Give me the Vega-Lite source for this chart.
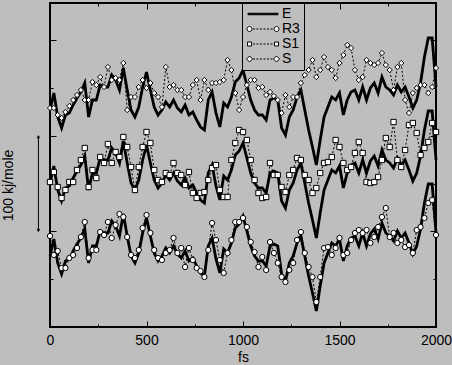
{
"$schema": "https://vega.github.io/schema/vega-lite/v6.json",
"width": 386, "height": 324,
"autosize": {"type": "none"},
"padding": {"left": 50, "top": 3, "right": 16, "bottom": 38},
"background": "#bebebe",
"config": {
  "view": {"stroke": "black", "strokeWidth": 2},
  "font": "Liberation Sans",
  "axis": {"domain": false, "grid": false, "tickColor": "black", "tickWidth": 1, "labelColor": "black", "labelFontSize": 14, "titleFontSize": 14, "titleFontWeight": "normal", "titleColor": "black", "labelFont": "Liberation Sans", "titleFont": "Liberation Sans"}
},
"datasets": {"d": [
{"t":0,"Ea":217,"Eb":144,"Ec":71,"R3":91,"S1":145,"S":219},
{"t":20,"Ea":234,"Eb":161,"Ec":88,"R3":72,"S1":155,"S":219},
{"t":40,"Ea":210,"Eb":137,"Ec":64,"R3":76,"S1":140,"S":212},
{"t":60,"Ea":199,"Eb":126,"Ec":53,"R3":59,"S1":129,"S":209},
{"t":80,"Ea":212,"Eb":139,"Ec":66,"R3":59,"S1":137,"S":215},
{"t":100,"Ea":214,"Eb":141,"Ec":68,"R3":69,"S1":145,"S":221},
{"t":120,"Ea":222,"Eb":149,"Ec":76,"R3":72,"S1":145,"S":227},
{"t":140,"Ea":229,"Eb":156,"Ec":83,"R3":79,"S1":157,"S":232},
{"t":160,"Ea":235,"Eb":162,"Ec":89,"R3":90,"S1":167,"S":237},
{"t":180,"Ea":244,"Eb":171,"Ec":98,"R3":105,"S1":179,"S":227},
{"t":200,"Ea":210,"Eb":137,"Ec":64,"R3":69,"S1":140,"S":227},
{"t":220,"Ea":227,"Eb":154,"Ec":81,"R3":77,"S1":157,"S":245},
{"t":240,"Ea":227,"Eb":154,"Ec":81,"R3":77,"S1":149,"S":242},
{"t":260,"Ea":242,"Eb":169,"Ec":96,"R3":95,"S1":170,"S":250},
{"t":280,"Ea":240,"Eb":167,"Ec":94,"R3":92,"S1":164,"S":240},
{"t":300,"Ea":240,"Eb":167,"Ec":94,"R3":105,"S1":183,"S":260},
{"t":320,"Ea":252,"Eb":179,"Ec":106,"R3":89,"S1":164,"S":247},
{"t":340,"Ea":247,"Eb":174,"Ec":101,"R3":102,"S1":175,"S":249},
{"t":360,"Ea":237,"Eb":164,"Ec":91,"R3":113,"S1":170,"S":247},
{"t":380,"Ea":259,"Eb":186,"Ec":113,"R3":110,"S1":190,"S":264},
{"t":400,"Ea":237,"Eb":164,"Ec":91,"R3":90,"S1":180,"S":217},
{"t":420,"Ea":217,"Eb":144,"Ec":71,"R3":72,"S1":160,"S":230},
{"t":440,"Ea":210,"Eb":137,"Ec":64,"R3":69,"S1":137,"S":230},
{"t":460,"Ea":220,"Eb":147,"Ec":74,"R3":77,"S1":160,"S":240},
{"t":480,"Ea":240,"Eb":167,"Ec":94,"R3":99,"S1":180,"S":247},
{"t":500,"Ea":255,"Eb":182,"Ec":109,"R3":112,"S1":195,"S":239},
{"t":520,"Ea":237,"Eb":164,"Ec":91,"R3":94,"S1":184,"S":244},
{"t":540,"Ea":220,"Eb":147,"Ec":74,"R3":77,"S1":157,"S":234},
{"t":560,"Ea":212,"Eb":139,"Ec":66,"R3":69,"S1":147,"S":230},
{"t":580,"Ea":217,"Eb":144,"Ec":71,"R3":67,"S1":145,"S":220},
{"t":600,"Ea":225,"Eb":152,"Ec":79,"R3":74,"S1":154,"S":260},
{"t":620,"Ea":220,"Eb":147,"Ec":74,"R3":77,"S1":152,"S":240},
{"t":640,"Ea":227,"Eb":154,"Ec":81,"R3":89,"S1":164,"S":242},
{"t":660,"Ea":219,"Eb":146,"Ec":73,"R3":74,"S1":154,"S":237},
{"t":680,"Ea":215,"Eb":142,"Ec":69,"R3":79,"S1":152,"S":237},
{"t":700,"Ea":222,"Eb":149,"Ec":76,"R3":60,"S1":142,"S":230},
{"t":720,"Ea":212,"Eb":139,"Ec":66,"R3":79,"S1":155,"S":230},
{"t":740,"Ea":215,"Eb":142,"Ec":69,"R3":67,"S1":134,"S":242},
{"t":760,"Ea":207,"Eb":134,"Ec":61,"R3":59,"S1":129,"S":247},
{"t":780,"Ea":200,"Eb":127,"Ec":54,"R3":56,"S1":134,"S":227},
{"t":800,"Ea":197,"Eb":124,"Ec":51,"R3":50,"S1":135,"S":247},
{"t":820,"Ea":227,"Eb":154,"Ec":81,"R3":77,"S1":147,"S":237},
{"t":840,"Ea":235,"Eb":162,"Ec":89,"R3":104,"S1":159,"S":244},
{"t":860,"Ea":214,"Eb":141,"Ec":68,"R3":87,"S1":162,"S":244},
{"t":880,"Ea":200,"Eb":127,"Ec":54,"R3":67,"S1":137,"S":245},
{"t":900,"Ea":224,"Eb":151,"Ec":78,"R3":54,"S1":130,"S":247},
{"t":920,"Ea":220,"Eb":147,"Ec":74,"R3":74,"S1":130,"S":267},
{"t":940,"Ea":230,"Eb":157,"Ec":84,"R3":87,"S1":167,"S":257},
{"t":960,"Ea":245,"Eb":172,"Ec":99,"R3":105,"S1":184,"S":234},
{"t":980,"Ea":249,"Eb":176,"Ec":103,"R3":105,"S1":197,"S":217},
{"t":1000,"Ea":257,"Eb":184,"Ec":111,"R3":109,"S1":195,"S":230},
{"t":1020,"Ea":242,"Eb":169,"Ec":96,"R3":100,"S1":187,"S":242},
{"t":1040,"Ea":227,"Eb":154,"Ec":81,"R3":85,"S1":167,"S":247},
{"t":1060,"Ea":217,"Eb":144,"Ec":71,"R3":75,"S1":147,"S":247},
{"t":1080,"Ea":212,"Eb":139,"Ec":66,"R3":60,"S1":134,"S":239},
{"t":1100,"Ea":212,"Eb":139,"Ec":66,"R3":70,"S1":129,"S":240},
{"t":1120,"Ea":207,"Eb":134,"Ec":61,"R3":57,"S1":130,"S":232},
{"t":1140,"Ea":227,"Eb":154,"Ec":81,"R3":85,"S1":164,"S":235},
{"t":1160,"Ea":229,"Eb":156,"Ec":83,"R3":74,"S1":152,"S":231},
{"t":1180,"Ea":227,"Eb":154,"Ec":81,"R3":64,"S1":152,"S":227},
{"t":1200,"Ea":199,"Eb":126,"Ec":53,"R3":50,"S1":140,"S":214},
{"t":1220,"Ea":192,"Eb":119,"Ec":46,"R3":45,"S1":135,"S":232},
{"t":1240,"Ea":210,"Eb":137,"Ec":64,"R3":57,"S1":152,"S":220},
{"t":1260,"Ea":217,"Eb":144,"Ec":71,"R3":64,"S1":157,"S":230},
{"t":1280,"Ea":230,"Eb":157,"Ec":84,"R3":87,"S1":169,"S":230},
{"t":1300,"Ea":237,"Eb":164,"Ec":91,"R3":95,"S1":167,"S":244},
{"t":1320,"Ea":217,"Eb":144,"Ec":71,"R3":74,"S1":152,"S":252},
{"t":1340,"Ea":197,"Eb":124,"Ec":51,"R3":60,"S1":147,"S":257},
{"t":1360,"Ea":180,"Eb":107,"Ec":34,"R3":50,"S1":134,"S":267},
{"t":1380,"Ea":162,"Eb":89,"Ec":16,"R3":25,"S1":139,"S":250},
{"t":1400,"Ea":187,"Eb":114,"Ec":41,"R3":50,"S1":154,"S":257},
{"t":1420,"Ea":210,"Eb":137,"Ec":64,"R3":79,"S1":164,"S":270},
{"t":1440,"Ea":220,"Eb":147,"Ec":74,"R3":80,"S1":165,"S":260},
{"t":1460,"Ea":230,"Eb":157,"Ec":84,"R3":72,"S1":170,"S":257},
{"t":1480,"Ea":227,"Eb":154,"Ec":81,"R3":79,"S1":187,"S":249},
{"t":1500,"Ea":234,"Eb":161,"Ec":88,"R3":89,"S1":180,"S":264},
{"t":1520,"Ea":212,"Eb":139,"Ec":66,"R3":72,"S1":164,"S":272},
{"t":1540,"Ea":227,"Eb":154,"Ec":81,"R3":74,"S1":157,"S":282},
{"t":1560,"Ea":235,"Eb":162,"Ec":89,"R3":87,"S1":160,"S":279},
{"t":1580,"Ea":237,"Eb":164,"Ec":91,"R3":94,"S1":174,"S":257},
{"t":1600,"Ea":227,"Eb":154,"Ec":81,"R3":97,"S1":185,"S":247},
{"t":1620,"Ea":240,"Eb":167,"Ec":94,"R3":94,"S1":174,"S":250},
{"t":1640,"Ea":227,"Eb":154,"Ec":81,"R3":97,"S1":145,"S":267},
{"t":1660,"Ea":239,"Eb":166,"Ec":93,"R3":84,"S1":144,"S":264},
{"t":1680,"Ea":244,"Eb":171,"Ec":98,"R3":90,"S1":145,"S":262},
{"t":1700,"Ea":234,"Eb":161,"Ec":88,"R3":100,"S1":150,"S":264},
{"t":1720,"Ea":250,"Eb":177,"Ec":104,"R3":110,"S1":167,"S":274},
{"t":1740,"Ea":240,"Eb":167,"Ec":94,"R3":119,"S1":189,"S":262},
{"t":1760,"Ea":237,"Eb":164,"Ec":91,"R3":90,"S1":180,"S":257},
{"t":1780,"Ea":232,"Eb":159,"Ec":86,"R3":94,"S1":205,"S":237},
{"t":1800,"Ea":242,"Eb":169,"Ec":96,"R3":84,"S1":167,"S":260},
{"t":1820,"Ea":235,"Eb":162,"Ec":89,"R3":87,"S1":160,"S":264},
{"t":1840,"Ea":240,"Eb":167,"Ec":94,"R3":80,"S1":177,"S":227},
{"t":1860,"Ea":230,"Eb":157,"Ec":84,"R3":82,"S1":202,"S":214},
{"t":1880,"Ea":219,"Eb":146,"Ec":73,"R3":74,"S1":204,"S":234},
{"t":1900,"Ea":227,"Eb":154,"Ec":81,"R3":97,"S1":194,"S":239},
{"t":1920,"Ea":244,"Eb":171,"Ec":98,"R3":100,"S1":172,"S":242},
{"t":1940,"Ea":270,"Eb":197,"Ec":124,"R3":109,"S1":179,"S":242},
{"t":1960,"Ea":289,"Eb":216,"Ec":143,"R3":124,"S1":185,"S":234},
{"t":1980,"Ea":289,"Eb":216,"Ec":143,"R3":127,"S1":204,"S":240},
{"t":2000,"Ea":240,"Eb":167,"Ec":94,"R3":92,"S1":195,"S":259}
]},
"data": {"name": "d"},
"layer": [
  {
    "transform": [{"fold": ["Ea", "Eb", "Ec"], "as": ["k", "v"]}],
    "mark": {"type": "line", "color": "black", "strokeWidth": 2.8},
    "encoding": {
      "x": {"field": "t", "type": "quantitative", "scale": {"domain": [0, 2000], "nice": false},
        "axis": {"orient": "bottom", "values": [0,250,500,750,1000,1250,1500,1750,2000], "format": "d", "labelExpr": "datum.value % 500 === 0 ? datum.label : ''", "tickSize": {"condition": {"test": "datum.value % 500 === 0", "value": -6}, "value": -3}, "labelPadding": 12, "labelFlush": false, "title": "fs", "titlePadding": 3}},
      "y": {"field": "v", "type": "quantitative", "scale": {"domain": [0, 324], "nice": false, "zero": false},
        "axis": {"orient": "left", "values": [0,47.8,95.6,143.4,191.2,239,286.8], "labels": false, "tickSize": {"condition": {"test": "abs(datum.value/95.6 - round(datum.value/95.6)) < 0.01", "value": -6}, "value": -3}, "title": "100 kj/mole", "titleAngle": 270, "titleX": -42, "titleY": 182, "titleBaseline": "middle", "titleAlign": "center"}},
      "detail": {"field": "k"}
    }
  },
  {
    "transform": [{"fold": ["R3", "S1", "S"], "as": ["k", "v"]}],
    "mark": {"type": "line", "color": "black", "strokeWidth": 1, "strokeDash": [2, 2]},
    "encoding": {
      "x": {"field": "t", "type": "quantitative",
        "axis": {"orient": "top", "values": [0,250,500,750,1000,1250,1500,1750,2000], "labels": false, "tickSize": {"condition": {"test": "datum.value % 500 === 0", "value": -6}, "value": -3}, "title": null}},
      "y": {"field": "v", "type": "quantitative",
        "axis": {"orient": "right", "values": [0,47.8,95.6,143.4,191.2,239,286.8], "labels": false, "tickSize": {"condition": {"test": "abs(datum.value/95.6 - round(datum.value/95.6)) < 0.01", "value": -6}, "value": -3}, "title": null}},
      "detail": {"field": "k"}
    }
  },
  {
    "transform": [{"fold": ["R3", "S1", "S"], "as": ["k", "v"]}],
    "mark": {"type": "point", "filled": true, "fill": "white", "stroke": "black", "strokeWidth": 1, "opacity": 1, "size": 28},
    "encoding": {
      "x": {"field": "t", "type": "quantitative", "axis": null},
      "y": {"field": "v", "type": "quantitative", "axis": null},
      "shape": {"field": "k", "type": "nominal", "scale": {"domain": ["R3", "S1", "S"], "range": ["circle", "square", "diamond"]}, "legend": null}
    }
  },
  {
    "transform": [{"filter": "false"}],
    "mark": {"type": "point", "filled": true, "strokeWidth": 1, "opacity": 1},
    "encoding": {
      "shape": {"field": "k", "type": "nominal",
        "scale": {"domain": ["E", "R3", "S1", "S"], "range": [
          "M-3,-0.15H3V0.15H-3Z",
          "M-2.2,0A0.5,0.5 0 1,1 -3.2,0A0.5,0.5 0 1,1 -2.2,0Z M3.2,0A0.5,0.5 0 1,1 2.2,0A0.5,0.5 0 1,1 3.2,0Z M-2,0H-1.6M-1.3,0H-0.9M-0.6,0H-0.2M0.1,0H0.5M0.8,0H1.2M1.5,0H1.9",
          "M-3.1,-0.4H-2.3V0.4H-3.1Z M2.3,-0.4H3.1V0.4H2.3Z M-2,0H-1.6M-1.3,0H-0.9M-0.6,0H-0.2M0.1,0H0.5M0.8,0H1.2M1.5,0H1.9",
          "M-3.3,0L-2.7,-0.6L-2.1,0L-2.7,0.6Z M2.1,0L2.7,-0.6L3.3,0L2.7,0.6Z M-2,0H-1.6M-1.3,0H-0.9M-0.6,0H-0.2M0.1,0H0.5M0.8,0H1.2M1.5,0H1.9"
        ]},
        "legend": {"orient": "none", "legendX": 192, "legendY": 0, "title": null, "strokeColor": "black", "fillColor": "#bebebe", "padding": 4, "symbolSize": 100, "symbolOffset": 10, "labelOffset": 12, "rowPadding": 1, "labelFontSize": 14, "labelFont": "Liberation Sans", "labelColor": "black", "symbolStrokeWidth": 1, "symbolOpacity": 1}
      },
      "fill": {"field": "k", "type": "nominal", "scale": {"domain": ["E", "R3", "S1", "S"], "range": ["black", "white", "white", "white"]}},
      "stroke": {"field": "k", "type": "nominal", "scale": {"domain": ["E", "R3", "S1", "S"], "range": ["black", "black", "black", "black"]}}
    }
  },
  {
    "data": {"values": [{"t": -60, "lo": 95.6, "hi": 191.2}]},
    "mark": {"type": "rule", "color": "black", "strokeWidth": 1},
    "encoding": {
      "x": {"field": "t", "type": "quantitative", "axis": null},
      "y": {"field": "lo", "type": "quantitative", "axis": null},
      "y2": {"field": "hi"}
    }
  },
  {
    "data": {"values": [{"t": -60, "lo": 95.6, "hi": 191.2}]},
    "mark": {"type": "point", "shape": "M-1,2L0,0L1,2", "filled": false, "stroke": "black", "strokeWidth": 1, "size": 6.25, "opacity": 1},
    "encoding": {
      "x": {"field": "t", "type": "quantitative", "axis": null},
      "y": {"field": "hi", "type": "quantitative", "axis": null}
    }
  },
  {
    "data": {"values": [{"t": -60, "lo": 95.6, "hi": 191.2}]},
    "mark": {"type": "point", "shape": "M-1,-2L0,0L1,-2", "filled": false, "stroke": "black", "strokeWidth": 1, "size": 6.25, "opacity": 1},
    "encoding": {
      "x": {"field": "t", "type": "quantitative", "axis": null},
      "y": {"field": "lo", "type": "quantitative", "axis": null}
    }
  }
],
"resolve": {"scale": {"shape": "independent", "fill": "independent", "stroke": "independent"}, "axis": {"x": "independent", "y": "independent"}}
}
